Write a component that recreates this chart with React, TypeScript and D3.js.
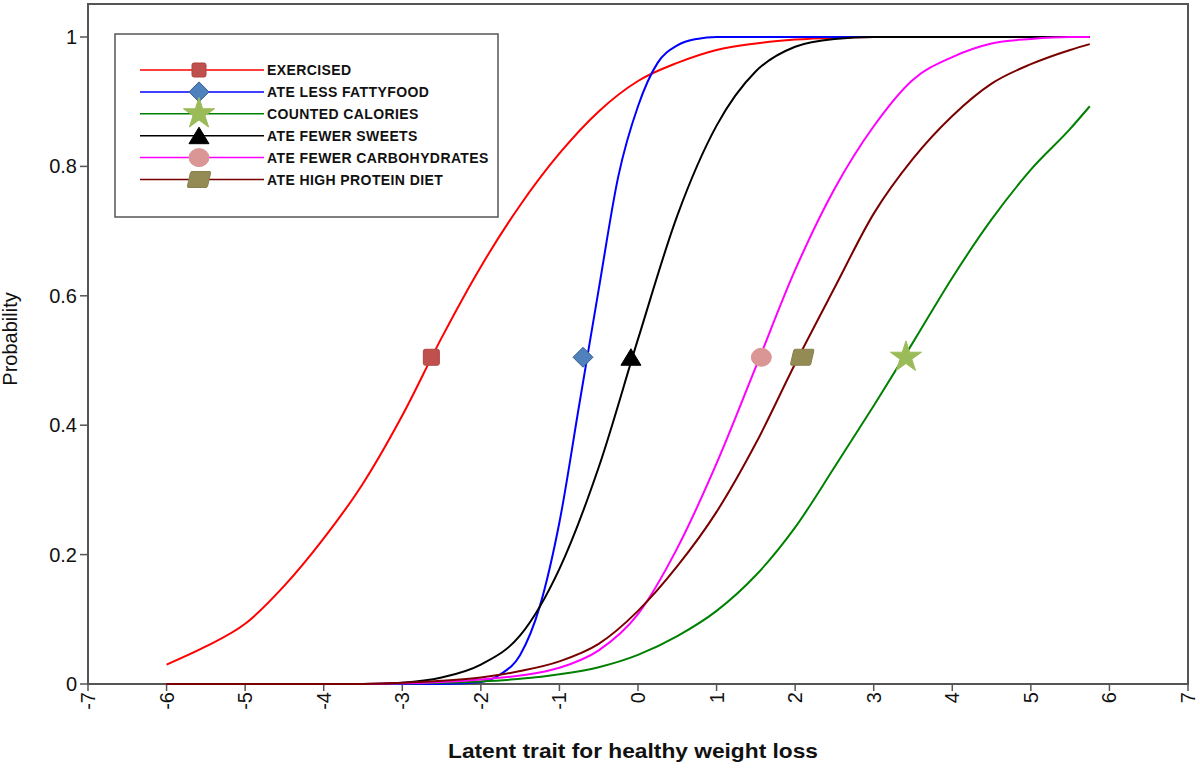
import React from 'react';
import * as d3 from 'd3';

// ---- data ----
const thetaHalf = [-6, -5.5, -5, -4.5, -4, -3.5, -3, -2.5, -2, -1.5, -1, -0.5, 0, 0.5, 1, 1.5, 2, 2.5, 3, 3.5, 4, 4.5, 5, 5.5, 5.75];
const thetaBlue = [-6, -5, -4, -3, -2.5, -2, -1.75, -1.5, -1.25, -1, -0.75, -0.5, -0.25, 0, 0.25, 0.5, 0.75, 1, 1.5, 2, 3, 4, 5, 5.75];

const exercised = [0.03, 0.058, 0.093, 0.152, 0.225, 0.31, 0.415, 0.535, 0.645, 0.74, 0.82, 0.885, 0.932, 0.96, 0.98, 0.99, 0.996, 0.999, 1, 1, 1, 1, 1, 1, 1];
const lessFatty = [0, 0, 0, 0, 0, 0.003, 0.015, 0.045, 0.12, 0.25, 0.43, 0.61, 0.785, 0.893, 0.96, 0.987, 0.997, 1, 1, 1, 1, 1, 1, 1];
const countedCalories = [0, 0, 0, 0, 0, 0, 0.001, 0.002, 0.004, 0.008, 0.015, 0.026, 0.045, 0.074, 0.113, 0.168, 0.242, 0.335, 0.43, 0.528, 0.628, 0.718, 0.795, 0.858, 0.893];
const fewerSweets = [0, 0, 0, 0, 0, 0, 0.002, 0.01, 0.03, 0.075, 0.178, 0.335, 0.533, 0.724, 0.863, 0.947, 0.985, 0.997, 1, 1, 1, 1, 1, 1, 1];
const fewerCarbs = [0, 0, 0, 0, 0, 0, 0.001, 0.003, 0.007, 0.013, 0.025, 0.052, 0.108, 0.21, 0.341, 0.49, 0.64, 0.765, 0.862, 0.934, 0.969, 0.99, 0.997, 1, 1];
const highProtein = [0, 0, 0, 0, 0, 0, 0.002, 0.005, 0.01, 0.02, 0.035, 0.062, 0.113, 0.182, 0.266, 0.372, 0.495, 0.612, 0.727, 0.812, 0.878, 0.928, 0.958, 0.98, 0.989];

const seriesNames = ['EXERCISED', 'ATE LESS FATTY FOOD', 'COUNTED CALORIES', 'ATE FEWER SWEETS', 'ATE FEWER CARBOHYDRATES', 'ATE HIGH PROTEIN DIET'];
const legendLabels = ['EXERCISED', 'ATE LESS FATTYFOOD', 'COUNTED CALORIES', 'ATE FEWER SWEETS', 'ATE FEWER CARBOHYDRATES', 'ATE HIGH PROTEIN DIET'];
const markerTheta = [-2.63, -0.7, 3.41, -0.09, 1.57, 2.09];
const markerProb = 0.505;

const xTicks = [-7, -6, -5, -4, -3, -2, -1, 0, 1, 2, 3, 4, 5, 6, 7];
const yTicks = [0, 0.2, 0.4, 0.6, 0.8, 1];
const yTickLabels = ['0', '0.2', '0.4', '0.6', '0.8', '1'];

// ---- styles ----
const lineColors = ['#FF0000', '#0000FF', '#008000', '#000000', '#FF00FF', '#7A0000'];
const markerFill = ['#C0504D', '#4F81BD', '#9BBB59', '#000000', '#D99694', '#948A54'];
const markerStroke = ['#B04440', '#385D8A', '#9BBB59', '#000000', '#D99694', '#86804C'];
const markerKind = ['square', 'diamond', 'star', 'triangle', 'circle', 'para'];

const FONT = '"Liberation Sans", Arial, sans-serif';

function markerPath(kind: string, small = false): string {
  switch (kind) {
    case 'square':
      return small
        ? 'M-7,-5 Q-7,-7 -5,-7 L5,-7 Q7,-7 7,-5 L7,5 Q7,7 5,7 L-5,7 Q-7,7 -7,5 Z'
        : 'M-8,-6 Q-8,-8 -6,-8 L6,-8 Q8,-8 8,-6 L8,6 Q8,8 6,8 L-6,8 Q-8,8 -8,6 Z';
    case 'diamond':
      return 'M0,-10 L10,0 L0,10 L-10,0 Z';
    case 'star':
      return d3.symbol(d3.symbolStar, 300)() as string;
    case 'triangle':
      return 'M0,-8.5 L10,8 L-10,8 Z';
    case 'circle':
      return 'M-10,0 A10,9 0 1,0 10,0 A10,9 0 1,0 -10,0 Z';
    case 'para':
      return 'M-7,-8 L11,-8 Q12,-8 11.5,-6 L8.5,7 Q8,8 7,8 L-11,8 Q-12,8 -11.5,6 L-8.5,-7 Q-8,-8 -7,-8 Z';
  }
  return '';
}

export default function App() {
  const x = d3.scaleLinear().domain([-7, 7]).range([88, 1188]);
  const y = d3.scaleLinear().domain([0, 1]).range([684, 37]);

  const seriesData = [
    { theta: thetaHalf, p: exercised },
    { theta: thetaBlue, p: lessFatty },
    { theta: thetaHalf, p: countedCalories },
    { theta: thetaHalf, p: fewerSweets },
    { theta: thetaHalf, p: fewerCarbs },
    { theta: thetaHalf, p: highProtein },
  ];

  const line = d3
    .line<[number, number]>()
    .x((d) => x(d[0]))
    .y((d) => y(d[1]))
    .curve(d3.curveMonotoneX);

  const legendX0 = 140;
  const legendX1 = 264;
  const legendMx = 199;
  const legendY0 = 70;
  const legendDy = 21.9;

  return (
    <svg
      width={1200}
      height={771}
      style={{ position: 'absolute', left: 0, top: 0, background: '#fff' }}
      fontFamily={FONT}
    >
      <rect x={0} y={0} width={1200} height={771} fill="#fff" />
      {/* frame */}
      <rect x={x(-7)} y={4} width={x(7) - x(-7)} height={y(0) - 4} fill="none" stroke="#555" strokeWidth={2} />

      {/* y axis ticks */}
      {yTicks.map((t, i) => (
        <g key={'yt' + i}>
          <line x1={x(-7) - 8} x2={x(-7)} y1={y(t)} y2={y(t)} stroke="#555" strokeWidth={1.5} />
          <text x={77} y={y(t) + 7} fontSize={20} textAnchor="end" fill="#111">
            {yTickLabels[i]}
          </text>
        </g>
      ))}

      {/* x axis ticks */}
      {xTicks.map((t) => (
        <g key={'xt' + t}>
          <line x1={x(t)} x2={x(t)} y1={y(0)} y2={y(0) + 7} stroke="#555" strokeWidth={1.5} />
          <text
            transform={`translate(${x(t) + 7},${692}) rotate(-90)`}
            fontSize={20}
            textAnchor="end"
            fill="#111"
          >
            {String(t)}
          </text>
        </g>
      ))}

      {/* axis titles */}
      <text x={633} y={758} fontSize={21} fontWeight="bold" textAnchor="middle" fill="#111" textLength={370} lengthAdjust="spacingAndGlyphs">
        Latent trait for healthy weight loss
      </text>
      <text transform="translate(17,339) rotate(-90)" fontSize={20} textAnchor="middle" fill="#111">
        Probability
      </text>

      {/* curves */}
      {seriesData.map((s, i) => (
        <path
          key={'ln' + i}
          d={line(s.theta.map((t, j) => [t, s.p[j]] as [number, number])) as string}
          fill="none"
          stroke={lineColors[i]}
          strokeWidth={2}
          strokeLinejoin="round"
        />
      ))}

      {/* markers */}
      {seriesNames.map((n, i) => (
        <path
          key={'mk' + i}
          d={markerPath(markerKind[i])}
          transform={`translate(${x(markerTheta[i])},${y(markerProb)})`}
          fill={markerFill[i]}
          stroke={markerStroke[i]}
          strokeWidth={1}
        />
      ))}

      {/* legend */}
      <rect x={115} y={34} width={383} height={183} fill="#fff" stroke="#555" strokeWidth={1.5} />
      {legendLabels.map((lab, i) => {
        const ly = legendY0 + i * legendDy;
        return (
          <g key={'lg' + i}>
            <line x1={legendX0} x2={legendX1} y1={ly} y2={ly} stroke={lineColors[i]} strokeWidth={1.5} />
            <path
              d={markerPath(markerKind[i], true)}
              transform={`translate(${legendMx},${ly})`}
              fill={markerFill[i]}
              stroke={markerStroke[i]}
              strokeWidth={1}
            />
            <text x={267} y={ly + 5} fontSize={14} fontWeight="bold" fill="#111" letterSpacing={0.4}>
              {lab}
            </text>
          </g>
        );
      })}
    </svg>
  );
}
